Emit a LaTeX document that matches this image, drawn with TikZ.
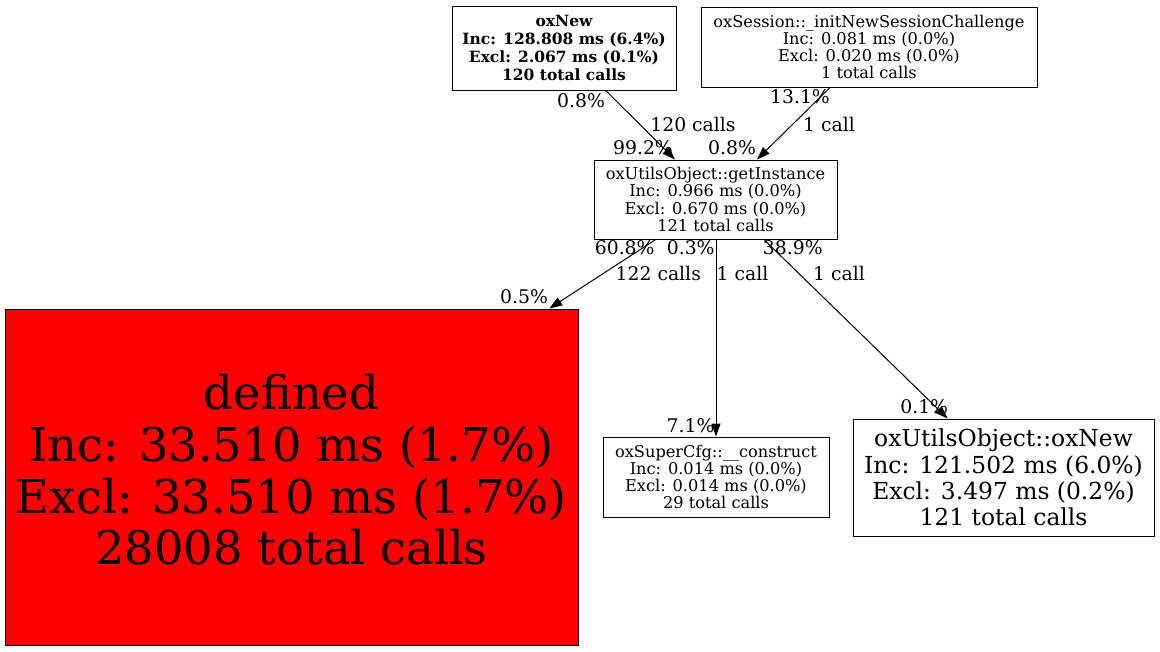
\documentclass[tikz,border=0pt]{standalone}
\usepackage{fontspec}
\setmainfont{DejaVu Serif}
\usetikzlibrary{arrows.meta}
\begin{document}
\begin{tikzpicture}[x=1pt,y=-1pt,
  box/.style={draw=black, line width=1pt, rectangle, inner sep=0pt, align=center},
  smalltxt/.style={font=\fontsize{16.2}{17.2}\selectfont},
  lbl/.style={inner sep=0pt, font=\fontsize{18.8}{20}\selectfont},
  conn/.style={draw=black, line width=1pt, -{Triangle[length=13pt,width=9pt]}}]
\useasboundingbox (0,0) rectangle (1160,651);
% nodes
\node[box, minimum width=224pt, minimum height=84pt, font=\bfseries\fontsize{15.5}{18.2}\selectfont] (oxnew) at (564,48)
  {oxNew\\Inc: 128.808 ms (6.4\%)\\Excl: 2.067 ms (0.1\%)\\120 total calls};
\node[box, smalltxt, minimum width=336pt, minimum height=80pt] (oxsess) at (869,47)
  {oxSession::\_initNewSessionChallenge\\Inc: 0.081 ms (0.0\%)\\Excl: 0.020 ms (0.0\%)\\1 total calls};
\node[box, smalltxt, minimum width=243pt, minimum height=79pt] (gi) at (715.5,199.5)
  {oxUtilsObject::getInstance\\Inc: 0.966 ms (0.0\%)\\Excl: 0.670 ms (0.0\%)\\121 total calls};
\node[box, fill=red, minimum width=573pt, minimum height=336pt, font=\fontsize{46.5}{51.7}\selectfont] (def) at (291.5,477)
  {\begin{tabular}{@{}c@{}}defined\\Inc: 33.510 ms (1.7\%)\\Excl: 33.510 ms (1.7\%)\\28008 total calls\end{tabular}};
\node[box, smalltxt, minimum width=226pt, minimum height=80pt] (cfg) at (716,477)
  {oxSuperCfg::\_\_construct\\Inc: 0.014 ms (0.0\%)\\Excl: 0.014 ms (0.0\%)\\29 total calls};
\node[box, minimum width=301pt, minimum height=117pt, font=\fontsize{23.4}{26.3}\selectfont] (oxu) at (1003.5,477.5)
  {oxUtilsObject::oxNew\\Inc: 121.502 ms (6.0\%)\\Excl: 3.497 ms (0.2\%)\\121 total calls};
% connectors
\draw[conn] ([xshift=41.7pt]oxnew.south) -- ([xshift=-40.5pt]gi.north);
\draw[conn] ([xshift=-39pt]oxsess.south) -- ([xshift=41.5pt]gi.north);
\draw[conn] ([xshift=-59.8pt]gi.south) -- ([xshift=257.8pt]def.north);
\draw[conn] ([xshift=0.5pt]gi.south) -- ([xshift=0pt]cfg.north);
\draw[conn] ([xshift=48.5pt]gi.south) -- ([xshift=-55.8pt]oxu.north);
% labels
\node[lbl] (l1) at (581,101) {0.8\%};
\node[lbl] (l2) at (693,124) {120 calls};
\node[lbl] (l3) at (643,148) {99.2\%};
\node[lbl] (l4) at (800,97) {13.1\%};
\node[lbl] (l5) at (829,124) {1 call};
\node[lbl] (l6) at (732,148) {0.8\%};
\node[lbl] (l7) at (624.7,248) {60.8\%};
\node[lbl] (l8) at (690.7,248) {0.3\%};
\node[lbl] (l9) at (792.8,248) {38.9\%};
\node[lbl] (l10) at (658.3,273) {122 calls};
\node[lbl] (l11) at (742.5,273) {1 call};
\node[lbl] (l12) at (839,273) {1 call};
\node[lbl] (l13) at (524,297) {0.5\%};
\node[lbl] (l14) at (690.5,425.3) {7.1\%};
\node[lbl] (l15) at (924.2,406.7) {0.1\%};
\end{tikzpicture}
\end{document}
